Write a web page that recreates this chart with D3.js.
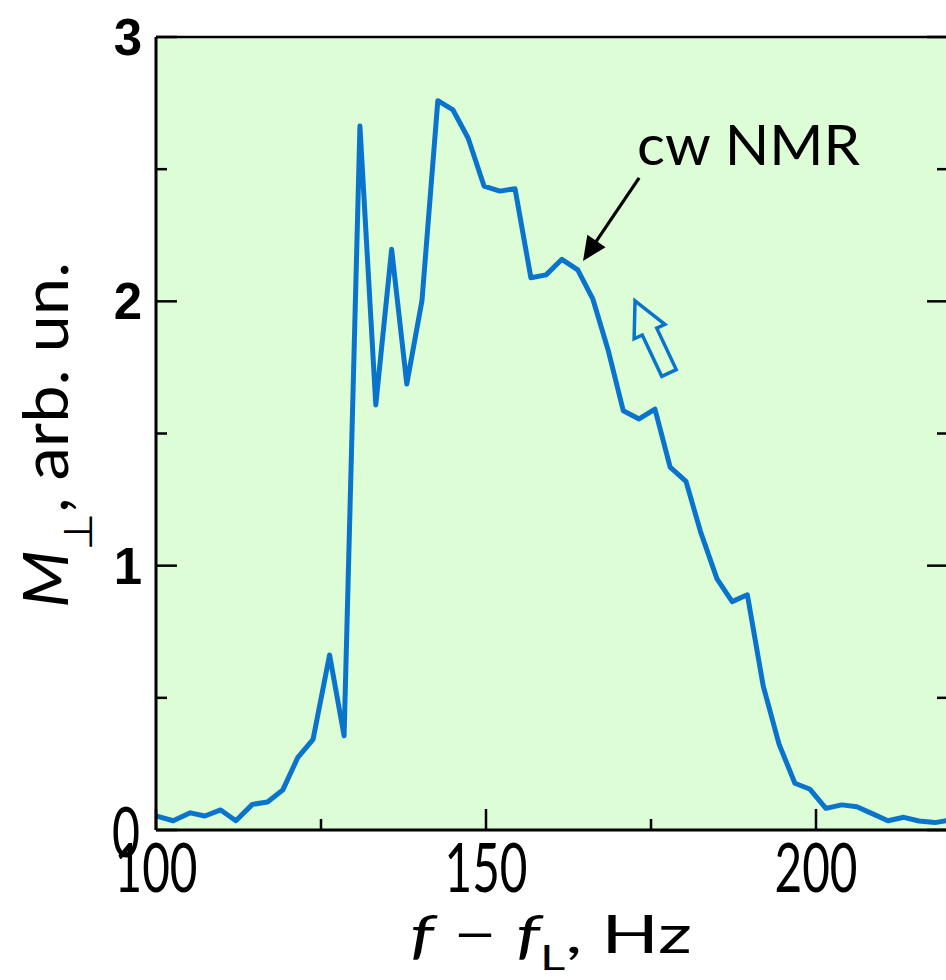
<!DOCTYPE html>
<html>
<head>
<meta charset="utf-8">
<script src="https://cdnjs.cloudflare.com/ajax/libs/d3/7.8.5/d3.min.js"></script>
<style>
    body { margin: 0; background: #fff; }
    svg { display: block; }
</style>
</head>
<body>
<div id="chart"></div>
<script>
// cw NMR line, transverse magnetization vs f - fL
var freq = [100, 102.6, 105.2, 107.4, 109.8, 112.1, 114.6, 116.9, 119.2, 121.5,
    123.8, 126.3, 128.5, 130.9, 133.3, 135.7, 138.0, 140.3, 142.7, 145.0,
    147.3, 149.7, 152.1, 154.4, 156.8, 159.1, 161.5, 163.9, 166.2, 168.5,
    170.8, 173.2, 175.6, 177.9, 180.3, 182.5, 185.0, 187.3, 189.6, 192.0,
    194.4, 196.8, 199.1, 201.5, 203.9, 206.2, 208.6, 210.9, 213.3, 215.6,
    218.0, 220.3];
var mperp = [0.053, 0.035, 0.065, 0.053, 0.076, 0.035, 0.097, 0.106, 0.151, 0.275,
    0.343, 0.662, 0.356, 2.663, 1.608, 2.197, 1.687, 2.003, 2.759, 2.724,
    2.617, 2.436, 2.417, 2.426, 2.089, 2.100, 2.159, 2.119, 2.008, 1.816,
    1.586, 1.555, 1.592, 1.373, 1.319, 1.129, 0.950, 0.864, 0.890, 0.545,
    0.325, 0.177, 0.154, 0.082, 0.095, 0.088, 0.061, 0.035, 0.048, 0.034,
    0.028, 0.037];

var xDomain = [100, 220];
var yDomain = [0, 3];
var xMajor = [100, 150, 200];
var xMinor = [125, 175];
var yMajor = [0, 1, 2, 3];
var yMinor = [0.5, 1.5, 2.5];

// annotation: label, black pointer (from -> to), hollow sweep arrow (tail -> tip)
var annoLabel = "cw NMR";
var annoLabelAt = [172.9, 2.516];
var pointerFrom = [173.2, 2.467];
var pointerTo = [164.7, 2.153];
var sweepTail = [177.73, 1.729];
var sweepTip = [172.58, 2.002];

// 0.size
var svgW = 946, svgH = 980;
var margin = {top: 37, right: -2, bottom: 150, left: 156};
var w = svgW - margin.left - margin.right;
var h = svgH - margin.top - margin.bottom;

var lineColor = "#0a74cc";
var bgColor = "#ddfdd6";

// 1.dom
var svgBG = d3.select("#chart").append("svg").attr("width", svgW).attr("height", svgH);
var svg = svgBG.append("g").attr("transform", "translate(" + margin.left + "," + margin.top + ")");

var x = d3.scaleLinear().domain(xDomain).range([0, w]);
var y = d3.scaleLinear().domain(yDomain).range([h, 0]);

svg.append("defs").append("clipPath").attr("id", "clip")
    .append("rect").attr("width", w).attr("height", h);

svg.append("rect").attr("width", w).attr("height", h).style("fill", bgColor);

// 2.curve
var data = freq.map(function (f, i) { return [f, mperp[i]]; });
var line = d3.line()
    .x(function (d) { return x(d[0]); })
    .y(function (d) { return y(d[1]); });

svg.append("path")
    .datum(data)
    .attr("clip-path", "url(#clip)")
    .attr("d", line)
    .style("fill", "none")
    .style("stroke", lineColor)
    .style("stroke-width", 5)
    .style("stroke-linejoin", "round")
    .style("stroke-linecap", "round");

// 3.frame + inward ticks
var frame = svg.append("g").style("stroke", "#000").style("fill", "none");
frame.append("line").attr("x1", 0).attr("x2", 0).attr("y1", 0).attr("y2", h).style("stroke-width", 3);
frame.append("line").attr("x1", 0).attr("x2", w).attr("y1", h).attr("y2", h).style("stroke-width", 3);
frame.append("line").attr("x1", 0).attr("x2", w).attr("y1", 0).attr("y2", 0).style("stroke-width", 2.5);
frame.append("line").attr("x1", w).attr("x2", w).attr("y1", 0).attr("y2", h).style("stroke-width", 3);

function tickLen(major) { return major ? 21 : 11; }

xMajor.map(function (v) { return [v, true]; }).concat(xMinor.map(function (v) { return [v, false]; }))
    .forEach(function (t) {
        frame.append("line")
            .attr("x1", x(t[0])).attr("x2", x(t[0]))
            .attr("y1", h).attr("y2", h - tickLen(t[1]))
            .style("stroke-width", 2.5);
    });

yMajor.map(function (v) { return [v, true]; }).concat(yMinor.map(function (v) { return [v, false]; }))
    .forEach(function (t) {
        frame.append("line")
            .attr("x1", 0).attr("x2", tickLen(t[1]))
            .attr("y1", y(t[0])).attr("y2", y(t[0]))
            .style("stroke-width", 2.5);
        frame.append("line")
            .attr("x1", w).attr("x2", w - tickLen(t[1]))
            .attr("y1", y(t[0])).attr("y2", y(t[0]))
            .style("stroke-width", 2.5);
    });

// 4.tick labels
svg.selectAll(".xlab").data(xMajor).enter().append("text")
    .attr("class", "xlab")
    .attr("x", function (d) { return x(d); })
    .attr("y", h + 62)
    .attr("text-anchor", "middle")
    .attr("textLength", 83)
    .attr("lengthAdjust", "spacingAndGlyphs")
    .style("font-family", "Lato, 'DejaVu Sans', sans-serif")
    .style("font-size", "67px")
    .text(function (d) { return d; });

svg.selectAll(".ylab").data(yMajor).enter().append("text")
    .attr("class", "ylab")
    .each(function (d) {
        var t = d3.select(this);
        if (d === 0) {
            // the zero sits in the condensed face, like the x labels
            t.attr("x", -16).attr("y", y(d) + 27)
                .attr("text-anchor", "end")
                .attr("textLength", 28)
                .attr("lengthAdjust", "spacingAndGlyphs")
                .style("font-family", "Lato, 'DejaVu Sans', sans-serif")
                .style("font-size", "69px");
        } else {
            t.attr("x", -14).attr("y", y(d) + 18)
                .attr("text-anchor", "end")
                .style("font-family", "'Liberation Sans', Arial, sans-serif")
                .style("font-weight", "bold")
                .style("font-size", "51px");
        }
    })
    .text(function (d) { return d; });

// 5.axis titles
var xt = svg.append("text")
    .attr("x", 410 - margin.left)
    .attr("y", h + 123)
    .attr("textLength", 282)
    .attr("lengthAdjust", "spacingAndGlyphs")
    .style("font-family", "Lato, 'DejaVu Sans', sans-serif")
    .style("font-size", "52px");
xt.append("tspan").style("font-style", "italic").text("f");
xt.append("tspan").text(" \u2212 ");
xt.append("tspan").style("font-style", "italic").text("f");
xt.append("tspan").attr("dy", 17).style("font-size", "34px").text("L");
xt.append("tspan").attr("dy", -17).text(",  Hz");

var yt = svg.append("text")
    .attr("transform", "translate(" + (68 - margin.left) + "," + (608 - margin.top) + ") rotate(-90)")
    .attr("textLength", 346)
    .attr("lengthAdjust", "spacingAndGlyphs")
    .style("font-family", "Lato, 'DejaVu Sans', sans-serif")
    .style("font-size", "62px");
yt.append("tspan").style("font-style", "italic").text("M");
yt.append("tspan").attr("dy", 24).style("font-size", "40px").text("\u22A5");
yt.append("tspan").attr("dy", -24).text(",  arb. un.");

// 6.annotations
svg.append("text")
    .attr("x", x(annoLabelAt[0]))
    .attr("y", y(annoLabelAt[1]))
    .attr("textLength", 223)
    .attr("lengthAdjust", "spacingAndGlyphs")
    .style("font-family", "Lato, 'DejaVu Sans', sans-serif")
    .style("font-size", "56px")
    .text(annoLabel);

// black pointer with filled head
(function () {
    var x0 = x(pointerFrom[0]), y0 = y(pointerFrom[1]);
    var x1 = x(pointerTo[0]), y1 = y(pointerTo[1]);
    var dx = x1 - x0, dy = y1 - y0, len = Math.sqrt(dx * dx + dy * dy);
    var ux = dx / len, uy = dy / len, px = -uy, py = ux;
    var headL = 24, headW = 11;
    var bx = x1 - ux * headL, by = y1 - uy * headL;
    svg.append("line")
        .attr("x1", x0).attr("y1", y0).attr("x2", bx + ux * 2).attr("y2", by + uy * 2)
        .style("stroke", "#000").style("stroke-width", 3.2);
    svg.append("path")
        .attr("d", "M" + x1 + "," + y1 +
            "L" + (bx + px * headW) + "," + (by + py * headW) +
            "L" + (bx - px * headW) + "," + (by - py * headW) + "Z")
        .style("fill", "#000");
})();

// hollow blue arrow showing sweep direction
(function () {
    var x0 = x(sweepTail[0]), y0 = y(sweepTail[1]);
    var x1 = x(sweepTip[0]), y1 = y(sweepTip[1]);
    var dx = x1 - x0, dy = y1 - y0, len = Math.sqrt(dx * dx + dy * dy);
    var ux = dx / len, uy = dy / len, px = -uy, py = ux;
    var headL = 34, headW = 17, shaftW = 8;
    var bx = x1 - ux * headL, by = y1 - uy * headL;
    var pts = [
        [x1, y1],
        [bx + px * headW, by + py * headW],
        [bx + px * shaftW, by + py * shaftW],
        [x0 + px * shaftW, y0 + py * shaftW],
        [x0 - px * shaftW, y0 - py * shaftW],
        [bx - px * shaftW, by - py * shaftW],
        [bx - px * headW, by - py * headW]
    ];
    svg.append("path")
        .attr("d", "M" + pts.map(function (p) { return p[0] + "," + p[1]; }).join("L") + "Z")
        .style("fill", "none")
        .style("stroke", lineColor)
        .style("stroke-width", 3.5)
        .style("stroke-linejoin", "miter");
})();
</script>
</body>
</html>
